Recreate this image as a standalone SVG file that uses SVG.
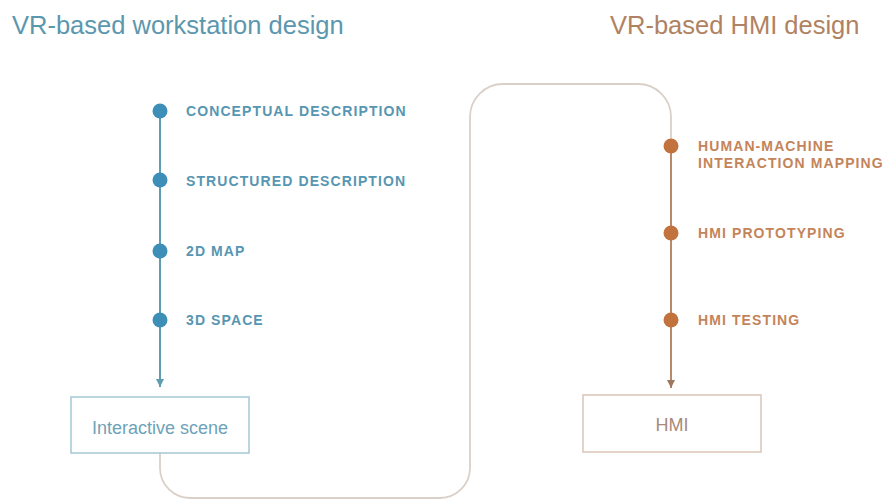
<svg xmlns="http://www.w3.org/2000/svg" width="884" height="502" viewBox="0 0 884 502">
  <defs>
    <style>
      .title { font-family: "Liberation Sans", Arial, sans-serif; font-size: 25.5px; }
      .t-blue { fill: #5b97ad; }
      .t-orange { fill: #b08262; }
      .step { font-family: "Liberation Sans", Arial, sans-serif; font-size: 14px; font-weight: bold; letter-spacing: 1.1px; }
      .s-blue { fill: #5796b2; }
      .s-orange { fill: #c4845a; }
      .dot-blue { fill: #3d8fb7; }
      .dot-orange { fill: #c2733d; }
      .box { fill: #ffffff; stroke-width: 1.6; }
      .box-blue { stroke: #a9cbd9; }
      .box-orange { stroke: #dcc8bb; }
      .box-label { font-family: "Liberation Sans", Arial, sans-serif; font-size: 18px; text-anchor: middle; }
      .bl-blue { fill: #6ea2b8; }
      .bl-orange { fill: #a8897a; }
      .link { fill: none; stroke: #dbd0c8; stroke-width: 1.8; }
      .spine-blue { fill: none; stroke: #5f9db3; stroke-width: 2; }
      .spine-orange { fill: none; stroke: #b68a6c; stroke-width: 2; }
    </style>
    <marker id="arrow-blue" viewBox="0 0 10 10" refX="10" refY="5" markerWidth="8" markerHeight="9" orient="auto" markerUnits="userSpaceOnUse">
      <path d="M0,0 L10,5 L0,10 z" fill="#5f9db3"/>
    </marker>
    <marker id="arrow-orange" viewBox="0 0 10 10" refX="10" refY="5" markerWidth="8" markerHeight="9" orient="auto" markerUnits="userSpaceOnUse">
      <path d="M0,0 L10,5 L0,10 z" fill="#9e7761"/>
    </marker>
  </defs>

  <rect width="884" height="502" fill="#ffffff"/>

  <!-- section headings -->
  <text class="title t-blue" x="12" y="34">VR-based workstation design</text>
  <text class="title t-orange" x="610" y="34">VR-based HMI design</text>

  <!-- connectors -->
  <g id="connectors">
    <path class="link" d="M160,453 L160,468 A30,30 0 0 0 190,498 L440,498 A30,30 0 0 0 470,468 L470,117 A33,33 0 0 1 503,84 L638,84 A33,33 0 0 1 671,117 L671,146"/>
    <path class="spine-blue" d="M160,111 L160,387" marker-end="url(#arrow-blue)"/>
    <path class="spine-orange" d="M671,146 L671,388" marker-end="url(#arrow-orange)"/>
  </g>

  <!-- workstation steps -->
  <g id="step-conceptual">
    <circle class="dot-blue" cx="160" cy="111" r="7.5"/>
    <text class="step s-blue" x="186" y="116">CONCEPTUAL DESCRIPTION</text>
  </g>
  <g id="step-structured">
    <circle class="dot-blue" cx="160" cy="180" r="7.5"/>
    <text class="step s-blue" x="186" y="186">STRUCTURED DESCRIPTION</text>
  </g>
  <g id="step-2d-map">
    <circle class="dot-blue" cx="160" cy="251" r="7.5"/>
    <text class="step s-blue" x="186" y="256">2D MAP</text>
  </g>
  <g id="step-3d-space">
    <circle class="dot-blue" cx="160" cy="320" r="7.5"/>
    <text class="step s-blue" x="186" y="325">3D SPACE</text>
  </g>
  <g id="interactive-scene">
    <rect class="box box-blue" x="71" y="397" width="178" height="56"/>
    <text class="box-label bl-blue" x="160" y="434">Interactive scene</text>
  </g>

  <!-- HMI steps -->
  <g id="step-mapping">
    <circle class="dot-orange" cx="671" cy="146" r="7.5"/>
    <text class="step s-orange" x="698" y="151">HUMAN-MACHINE</text>
    <text class="step s-orange" x="698" y="168">INTERACTION MAPPING</text>
  </g>
  <g id="step-prototyping">
    <circle class="dot-orange" cx="671" cy="233" r="7.5"/>
    <text class="step s-orange" x="698" y="238">HMI PROTOTYPING</text>
  </g>
  <g id="step-testing">
    <circle class="dot-orange" cx="671" cy="320" r="7.5"/>
    <text class="step s-orange" x="698" y="325">HMI TESTING</text>
  </g>
  <g id="hmi">
    <rect class="box box-orange" x="583" y="395" width="178" height="57"/>
    <text class="box-label bl-orange" x="672" y="431">HMI</text>
  </g>
</svg>
